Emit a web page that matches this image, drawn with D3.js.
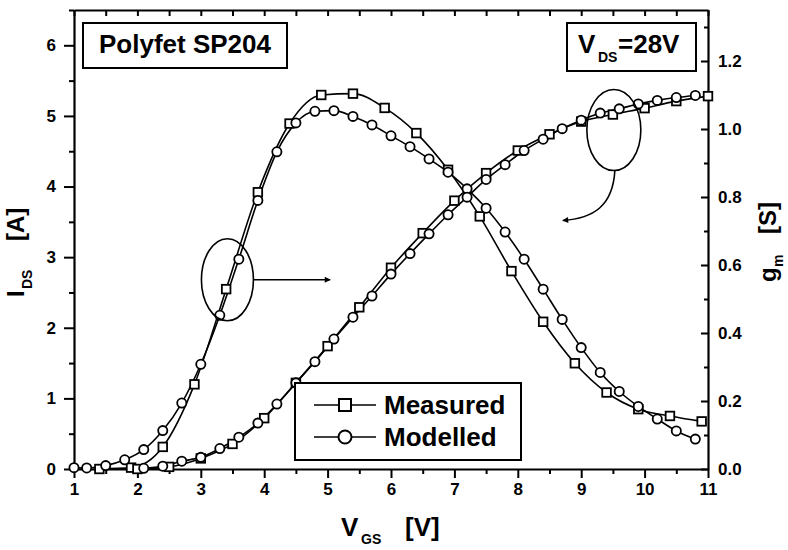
<!DOCTYPE html>
<html>
<head>
<meta charset="utf-8">
<script src="https://cdn.jsdelivr.net/npm/d3@7"></script>
<style>
  body { margin: 0; background: #fff; }
  svg { display: block; font-family: "Liberation Sans", Arial, Helvetica, sans-serif; font-weight: bold; }
</style>
</head>
<body>
<svg id="chart" width="788" height="550"></svg>
<script>
// Transconductance g_m [S] (right axis)
const gmMeasVgs  = [1.4, 1.9, 2.4, 2.9, 3.4, 3.9, 4.4, 4.9, 5.4, 5.9, 6.4, 6.9, 7.4, 7.9, 8.4, 8.9, 9.4, 9.9, 10.4, 10.9];
const gmMeasVals = [0.000, 0.004, 0.065, 0.249, 0.529, 0.814, 1.016, 1.100, 1.104, 1.062, 0.988, 0.880, 0.743, 0.582, 0.433, 0.311, 0.225, 0.176, 0.156, 0.140];

const gmModelVgs  = [1.0, 1.2, 1.5, 1.8, 2.1, 2.4, 2.7, 3.0, 3.3, 3.6, 3.9, 4.2, 4.5, 4.8, 5.1, 5.4, 5.7, 6.0, 6.3, 6.6, 6.9, 7.2, 7.5, 7.8, 8.1, 8.4, 8.7, 9.0, 9.3, 9.6, 9.9, 10.2, 10.5, 10.8];
const gmModelVals = [0.004, 0.003, 0.010, 0.027, 0.057, 0.113, 0.194, 0.308, 0.452, 0.617, 0.790, 0.933, 1.018, 1.052, 1.054, 1.037, 1.012, 0.980, 0.948, 0.912, 0.873, 0.824, 0.767, 0.697, 0.617, 0.529, 0.440, 0.357, 0.284, 0.228, 0.184, 0.147, 0.112, 0.088];

// Drain current I_DS [A] (left axis)
const idMeasVgs  = [2.0, 2.5, 3.0, 3.5, 4.0, 4.5, 5.0, 5.5, 6.0, 6.5, 7.0, 7.5, 8.0, 8.5, 9.0, 9.5, 10.0, 10.5, 11.0];
const idMeasVals = [0.00, 0.03, 0.15, 0.355, 0.72, 1.22, 1.74, 2.29, 2.85, 3.34, 3.80, 4.19, 4.51, 4.74, 4.92, 5.02, 5.11, 5.21, 5.28];

const idModelVgs  = [2.1, 2.4, 2.7, 3.0, 3.3, 3.6, 3.9, 4.2, 4.5, 4.8, 5.1, 5.4, 5.7, 6.0, 6.3, 6.6, 6.9, 7.2, 7.5, 7.8, 8.1, 8.4, 8.7, 9.0, 9.3, 9.6, 9.9, 10.2, 10.5, 10.8];
const idModelVals = [0.01, 0.04, 0.11, 0.165, 0.29, 0.45, 0.65, 0.92, 1.22, 1.52, 1.84, 2.15, 2.45, 2.76, 3.05, 3.33, 3.60, 3.85, 4.10, 4.31, 4.51, 4.67, 4.82, 4.94, 5.04, 5.10, 5.17, 5.22, 5.26, 5.29];

// Axis ticks
const xTicks      = [1, 2, 3, 4, 5, 6, 7, 8, 9, 10, 11];
const xMinorTicks = [1.5, 2.5, 3.5, 4.5, 5.5, 6.5, 7.5, 8.5, 9.5, 10.5];
const leftTicks      = [0, 1, 2, 3, 4, 5, 6];
const leftMinorTicks = [0.5, 1.5, 2.5, 3.5, 4.5, 5.5, 6.5];
const rightTicks      = [0.0, 0.2, 0.4, 0.6, 0.8, 1.0, 1.2];
const rightMinorTicks = [0.1, 0.3, 0.5, 0.7, 0.9, 1.1, 1.3];

const legendLabels = ["Measured", "Modelled"];

const FONT = '"Liberation Sans", Arial, Helvetica, sans-serif';
const plot = { left: 74, right: 708, top: 10, bottom: 469 };

const svg = d3.select("#chart");
svg.append("rect").attr("width", 788).attr("height", 550).attr("fill", "#fff");

const x  = d3.scaleLinear().domain([1, 11]).range([plot.left, plot.right]);
const yL = d3.scaleLinear().domain([0, 6.5]).range([plot.bottom, plot.top]);
const yR = d3.scaleLinear().domain([0, 1.35]).range([plot.bottom, plot.top]);

function styleAxis(g, showDomain) {
  g.attr("font-family", FONT).attr("font-size", 17).attr("font-weight", "bold");
  g.selectAll("path.domain").attr("stroke", showDomain ? "#000" : "none").attr("stroke-width", 2.2);
  g.selectAll(".tick line").attr("stroke", "#000").attr("stroke-width", 2);
  g.selectAll(".tick text").attr("fill", "#000");
}

// Bottom axis (ticks outward)
svg.append("g").attr("transform", `translate(0,${plot.bottom})`)
  .call(d3.axisBottom(x).tickValues(xMinorTicks).tickSize(5).tickSizeOuter(0).tickFormat(""))
  .call(g => styleAxis(g, false));
svg.append("g").attr("transform", `translate(0,${plot.bottom})`)
  .call(d3.axisBottom(x).tickValues(xTicks).tickSize(9).tickSizeOuter(0).tickPadding(5).tickFormat(d3.format("d")))
  .call(g => styleAxis(g, true));

// Top axis (ticks inward, no labels)
svg.append("g").attr("transform", `translate(0,${plot.top})`)
  .call(d3.axisTop(x).tickValues(xTicks.concat(xMinorTicks)).tickSize(-6).tickSizeOuter(0).tickFormat(""))
  .call(g => styleAxis(g, true));

// Left axis (ticks outward)
svg.append("g").attr("transform", `translate(${plot.left},0)`)
  .call(d3.axisLeft(yL).tickValues(leftMinorTicks).tickSize(5).tickSizeOuter(0).tickFormat(""))
  .call(g => styleAxis(g, false));
svg.append("g").attr("transform", `translate(${plot.left},0)`)
  .call(d3.axisLeft(yL).tickValues(leftTicks).tickSize(10).tickSizeOuter(0).tickPadding(8).tickFormat(d3.format("d")))
  .call(g => styleAxis(g, true));

// Right axis (ticks inward)
svg.append("g").attr("transform", `translate(${plot.right},0)`)
  .call(d3.axisRight(yR).tickValues(rightMinorTicks).tickSize(-4).tickSizeOuter(0).tickFormat(""))
  .call(g => styleAxis(g, false));
svg.append("g").attr("transform", `translate(${plot.right},0)`)
  .call(d3.axisRight(yR).tickValues(rightTicks).tickSize(-7).tickSizeOuter(0).tickPadding(10).tickFormat(d3.format(".1f")))
  .call(g => styleAxis(g, true));

// Curves
const series = [
  { vgs: gmMeasVgs,  vals: gmMeasVals,  y: yR, marker: "square" },
  { vgs: gmModelVgs, vals: gmModelVals, y: yR, marker: "circle" },
  { vgs: idMeasVgs,  vals: idMeasVals,  y: yL, marker: "square" },
  { vgs: idModelVgs, vals: idModelVals, y: yL, marker: "circle" }
];

const curves = svg.append("g");
series.forEach(s => {
  const pts = s.vgs.map((v, i) => [v, s.vals[i]]);
  const line = d3.line().x(d => x(d[0])).y(d => s.y(d[1])).curve(d3.curveMonotoneX);
  curves.append("path").datum(pts)
    .attr("d", line).attr("fill", "none").attr("stroke", "#000").attr("stroke-width", 1.6);
});
series.forEach(s => {
  const pts = s.vgs.map((v, i) => [v, s.vals[i]]);
  const g = curves.append("g");
  if (s.marker === "square") {
    g.selectAll("rect").data(pts).join("rect")
      .attr("x", d => x(d[0]) - 4.3).attr("y", d => s.y(d[1]) - 4.3)
      .attr("width", 8.6).attr("height", 8.6)
      .attr("fill", "#fff").attr("stroke", "#000").attr("stroke-width", 1.8);
  } else {
    g.selectAll("circle").data(pts).join("circle")
      .attr("cx", d => x(d[0])).attr("cy", d => s.y(d[1])).attr("r", 4.6)
      .attr("fill", "#fff").attr("stroke", "#000").attr("stroke-width", 1.8);
  }
});

// Arrowhead
const defs = svg.append("defs");
defs.append("marker").attr("id", "arrow")
  .attr("viewBox", "0 0 10 10").attr("refX", 9).attr("refY", 5)
  .attr("markerWidth", 8).attr("markerHeight", 6).attr("markerUnits", "userSpaceOnUse")
  .attr("orient", "auto")
  .append("path").attr("d", "M0,0 L10,5 L0,10 Z").attr("fill", "#000");

// Ellipse around the g_m curve, pointing to the right axis
const e1 = { cx: x(3.42), cy: yL(2.68), rx: 26, ry: 41 };
svg.append("ellipse").attr("cx", e1.cx).attr("cy", e1.cy).attr("rx", e1.rx).attr("ry", e1.ry)
  .attr("fill", "none").attr("stroke", "#000").attr("stroke-width", 1.6);
svg.append("line")
  .attr("x1", e1.cx + e1.rx).attr("y1", e1.cy).attr("x2", x(5.04)).attr("y2", e1.cy)
  .attr("stroke", "#000").attr("stroke-width", 1.6).attr("marker-end", "url(#arrow)");

// Ellipse around the I_DS curve, pointing to the left axis
const e2 = { cx: x(9.515), cy: yL(4.80), rx: 27, ry: 40.5 };
svg.append("ellipse").attr("cx", e2.cx).attr("cy", e2.cy).attr("rx", e2.rx).attr("ry", e2.ry)
  .attr("fill", "none").attr("stroke", "#000").attr("stroke-width", 1.6);
const a2x = x(8.71), a2y = yL(3.52);
const s2x = e2.cx + 1, s2y = e2.cy + e2.ry;
svg.append("path")
  .attr("d", `M${s2x},${s2y} C${s2x - 2},${s2y + 36} ${s2x - 22},${a2y - 2} ${a2x},${a2y}`)
  .attr("fill", "none").attr("stroke", "#000").attr("stroke-width", 1.6).attr("marker-end", "url(#arrow)");

// Device label box
svg.append("rect").attr("x", 83).attr("y", 23).attr("width", 204).attr("height", 45)
  .attr("fill", "#fff").attr("stroke", "#000").attr("stroke-width", 2);
svg.append("text").attr("x", 99).attr("y", 53).attr("font-size", 26).attr("font-family", FONT)
  .text("Polyfet SP204");

// Bias condition box
svg.append("rect").attr("x", 567).attr("y", 23).attr("width", 129).attr("height", 48)
  .attr("fill", "#fff").attr("stroke", "#000").attr("stroke-width", 2);
const vds = svg.append("text").attr("y", 53).attr("font-size", 26).attr("font-family", FONT);
vds.append("tspan").attr("x", 578).text("V");
vds.append("tspan").attr("x", 598).attr("dy", 9).attr("font-size", 14).text("DS");
vds.append("tspan").attr("x", 618).attr("dy", -9).text("=28V");

// Legend
const leg = svg.append("g");
leg.append("rect").attr("x", 295).attr("y", 383).attr("width", 226).attr("height", 77)
  .attr("fill", "#fff").attr("stroke", "#000").attr("stroke-width", 2);
const legRows = [405, 437];
legendLabels.forEach((lab, i) => {
  const yy = legRows[i];
  leg.append("line").attr("x1", 314).attr("x2", 376).attr("y1", yy).attr("y2", yy)
    .attr("stroke", "#000").attr("stroke-width", 1.6);
  if (i === 0) {
    leg.append("rect").attr("x", 339).attr("y", yy - 6).attr("width", 12).attr("height", 12)
      .attr("fill", "#fff").attr("stroke", "#000").attr("stroke-width", 2);
  } else {
    leg.append("circle").attr("cx", 345).attr("cy", yy).attr("r", 6.5)
      .attr("fill", "#fff").attr("stroke", "#000").attr("stroke-width", 2);
  }
  leg.append("text").attr("x", 384).attr("y", yy + 9).attr("font-size", 26).attr("font-family", FONT).text(lab);
});

// Axis titles
const xt = svg.append("text").attr("y", 536).attr("font-size", 26).attr("font-family", FONT);
xt.append("tspan").attr("x", 341).text("V");
xt.append("tspan").attr("x", 361).attr("dy", 8).attr("font-size", 14).text("GS");
xt.append("tspan").attr("x", 405).attr("dy", -8).text("[V]");

const ylt = svg.append("text").attr("transform", "translate(24,0) rotate(-90)")
  .attr("font-size", 24).attr("font-family", FONT);
ylt.append("tspan").attr("x", -297).text("I");
ylt.append("tspan").attr("x", -289).attr("dy", 8).attr("font-size", 14).text("DS");
ylt.append("tspan").attr("x", -241).attr("dy", -8).text("[A]");

const yrt = svg.append("text").attr("transform", "translate(776,0) rotate(-90)")
  .attr("font-size", 24).attr("font-family", FONT);
yrt.append("tspan").attr("x", -282).text("g");
yrt.append("tspan").attr("x", -267).attr("dy", 7).attr("font-size", 14).text("m");
yrt.append("tspan").attr("x", -234).attr("dy", -7).text("[S]");
</script>
</body>
</html>
